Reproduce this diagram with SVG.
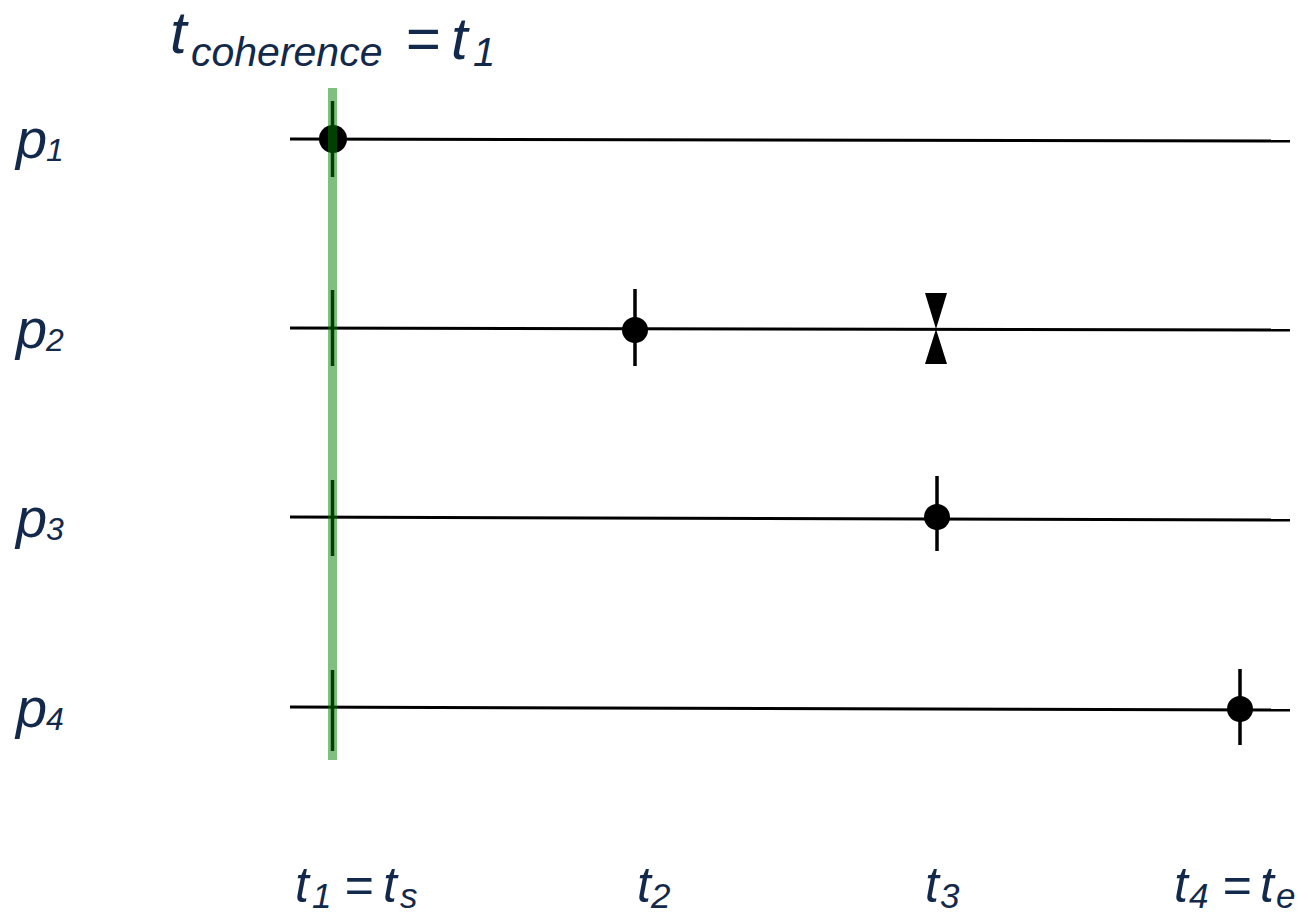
<svg xmlns="http://www.w3.org/2000/svg" width="1310" height="914" viewBox="0 0 1310 914">
<style>
.lbl{font-family:"Liberation Sans",Arial,sans-serif;font-style:italic;fill:#13294b}
.ln{stroke:#000;stroke-width:3;fill:none}
.tk{stroke:#000;stroke-width:3.5}
</style>
<rect width="1310" height="914" fill="#fff"/>
<g id="connectors">
<line class="ln" x1="290" y1="139" x2="1290" y2="141"/>
<line class="ln" x1="290" y1="328" x2="1290" y2="330"/>
<line class="ln" x1="290" y1="517" x2="1290" y2="520"/>
<line class="ln" x1="290" y1="707" x2="1290" y2="710"/>
</g>
<g id="p1-events">
<line class="tk" x1="332.5" y1="101" x2="332.5" y2="177"/>
<circle cx="333" cy="139" r="14"/>
</g>
<g id="p2-events">
<line class="tk" x1="332.5" y1="290" x2="332.5" y2="366"/>
<line class="tk" x1="635" y1="289" x2="635" y2="366"/>
<circle cx="635" cy="330" r="13"/>
<polygon points="925,293 947,293 936,329 947,364 925,364 936,329"/>
</g>
<g id="p3-events">
<line class="tk" x1="332.5" y1="480" x2="332.5" y2="556"/>
<line class="tk" x1="937" y1="476" x2="937" y2="551"/>
<circle cx="937" cy="517" r="13"/>
</g>
<g id="p4-events">
<line class="tk" x1="332.5" y1="670" x2="332.5" y2="751"/>
<line class="tk" x1="1240" y1="669" x2="1240" y2="745"/>
<circle cx="1240" cy="709" r="13"/>
</g>
<g id="coherence-bar">
<rect x="328" y="88" width="9" height="672" fill="#008000" fill-opacity="0.5"/>
</g>
<g id="title">
<text class="lbl" font-size="60"><tspan x="170" y="53">t</tspan><tspan x="191" y="66" font-size="41">coherence</tspan><tspan x="405" y="59">=</tspan><tspan x="451" y="59">t</tspan><tspan x="473" y="66" font-size="40">1</tspan></text>
</g>
<g id="process-labels">
<text class="lbl" font-size="56"><tspan x="16" y="158">p</tspan><tspan x="46" y="161" font-size="32">1</tspan></text>
<text class="lbl" font-size="56"><tspan x="16" y="348">p</tspan><tspan x="46" y="351" font-size="32">2</tspan></text>
<text class="lbl" font-size="56"><tspan x="16" y="537">p</tspan><tspan x="46" y="540" font-size="32">3</tspan></text>
<text class="lbl" font-size="56"><tspan x="16" y="727">p</tspan><tspan x="46" y="730" font-size="32">4</tspan></text>
</g>
<g id="time-labels">
<text class="lbl" font-size="50"><tspan x="295" y="902">t</tspan><tspan x="312" y="908" font-size="35">1</tspan><tspan x="344" y="902">=</tspan><tspan x="383" y="902">t</tspan><tspan x="400" y="908" font-size="35">s</tspan></text>
<text class="lbl" font-size="50"><tspan x="637" y="902">t</tspan><tspan x="651" y="908" font-size="35">2</tspan></text>
<text class="lbl" font-size="50"><tspan x="925" y="902">t</tspan><tspan x="940" y="908" font-size="35">3</tspan></text>
<text class="lbl" font-size="50"><tspan x="1174" y="902">t</tspan><tspan x="1189" y="908" font-size="35">4</tspan><tspan x="1222" y="902">=</tspan><tspan x="1260" y="902">t</tspan><tspan x="1276" y="908" font-size="35">e</tspan></text>
</g>
</svg>
